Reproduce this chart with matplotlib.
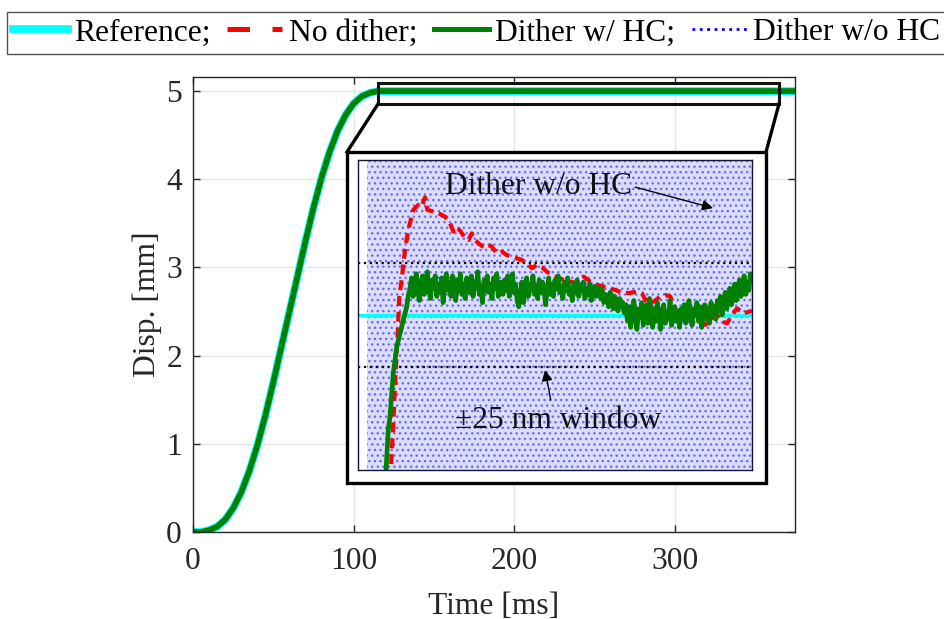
import numpy as np
import matplotlib
matplotlib.use('Agg')
import matplotlib.pyplot as plt
from matplotlib.patches import Rectangle
from matplotlib.lines import Line2D

plt.rcParams['font.family'] = ['Liberation Serif', 'DejaVu Serif']
plt.rcParams['font.size'] = 22.7
plt.rcParams['hatch.linewidth'] = 1.0

# main trajectory [ms], [mm]
t_main = [0, 5, 10, 15, 20, 25, 30, 35, 40, 45, 50, 55, 60, 65, 70, 75, 80,
          85, 90, 95, 100, 105, 110, 115, 375]
y_main = [0.0, 0.0, 0.02, 0.06, 0.14, 0.27, 0.45, 0.69, 0.98, 1.32, 1.70,
          2.10, 2.50, 2.90, 3.30, 3.68, 4.02, 4.31, 4.55, 4.73, 4.86, 4.94,
          4.98, 5.0, 5.0]

# zoomed view: error around 5 mm target [nm]
ref_t = [115, 365]
ref_nm = [0, 0]
win_nm = 25

# dither w/o HC swings over the whole zoom window
nohc_t = [120.5, 365]
nohc_lo = [-75, -75]
nohc_hi = [75, 75]

nodither_t = [135.5, 137.4, 138.5, 140.0, 141.2, 142.7, 144.8, 146.9, 150.1,
              153.3, 155.4, 157.5, 159.0, 162.8, 167.1, 170.2, 173.4, 175.5,
              177.7, 180.2, 183.0, 185.1, 187.2, 189.3, 191.4, 193.6, 195.7,
              197.8, 199.9, 203.1, 206.3, 209.5, 212.6, 215.8, 219.0, 222.1,
              225.3, 228.5, 231.7, 234.8, 238.0, 241.2, 245.4, 249.7, 253.9,
              258.1, 262.4, 266.6, 270.8, 275.1, 279.3, 283.5, 287.8, 292.0,
              295.2, 298.4, 302.6, 306.8, 310.0, 313.2, 316.4, 319.5, 323.8,
              328.0, 332.2, 335.4, 338.6, 342.8, 346.0, 349.2, 352.4, 355.5,
              359.8, 365.0]
nodither_nm = [-80, -52.6, -33.2, -12.1, 8.9, 17.0, 31.6, 41.3, 51.0,
               53.4, 52.6, 57.1, 51.0, 50.2, 49.0, 47.7, 44.5, 40.5,
               42.6, 40.5, 37.2, 36.4, 39.6, 36.4, 34.8, 33.5, 32.9,
               34.0, 33.2, 29.9, 30.7, 29.1, 28.3, 27.5, 26.7, 25.1,
               22.7, 24.3, 23.2, 21.0, 19.4, 18.3, 17.0, 16.2, 15.4,
               18.6, 16.2, 14.6, 13.8, 13.0, 11.8, 10.5, 10.8, 11.3,
               10.5, 5.7, 6.5, 8.9, 9.7, 8.9, 1.6, 0.0, -1.6,
               -2.4, -3.2, -4.8, -2.4, 0.0, -3.2, -4.0, 0.0, 3.2,
               0.8, 2.1]

hc_rise_t = [132.5, 134.2, 135.3, 137.4, 139.6, 142.7, 145.9, 147.0]
hc_rise_nm = [-80, -55.8, -49.4, -28.3, -15.4, -5.7, 4.0, 9.7]
# sampled every 1 ms from 148 ms
hc_nm = [
    13, 18, 9, 15, 20, 11, 7, 16, 19, 10, 14, 21, 12, 8, 17, 13, 19, 9, 15, 11,
    18, 6, 14, 20, 12, 16, 9, 19, 13, 7, 17, 12, 20, 10, 15, 8, 18, 14, 11, 19,
    9, 16, 13, 21, 10, 14, 6, 17, 12, 19, 11, 15, 8, 18, 13, 20, 9, 14, 16, 10,
    17, 12, 19, 9, 14, 20, 11, 15, 7, 4, 10, 16, 6, 13, 18, 9, 15, 12, 19, 10,
    14, 8, 17, 11, 16, 13, 5, 12, 18, 10, 15, 9, 17, 13, 19, 11, 14, 8, 16, 12,
    18, 10, 13, 7, 15, 11, 17, 9, 14, 12, 16, 8, 13, 10, 15, 7, 12, 14, 9, 11,
    13, 8, 12, 6, 10, 9, 4, 11, 7, 3, 9, 5, 2, 8, 4, 6, 1, 5,
    -3, 4, -6, 2, 7, -2, -7, 3, -1, 6, -5, 1, 5, -4, 8, 0, -6, 3, -3, 6,
    -1, -7, 2, 5, -4, 1, -2, 7, -5, 0, 4, -3, 2, -6, 3,
    -2, 5, -4, 2, 7, -1, -5, 3, 0, 6, -3, 4, -6, 1, 5, -2, 3, -4, 6, 0,
    4, -2, 7, 2, 9, 0, 6, 11, 3, 8, 13, 5, 10, 15, 7, 12, 17, 9, 14, 19,
    10, 16, 12, 20, 18]
hc_t = np.concatenate([hc_rise_t, 148 + np.arange(len(hc_nm))])
hc_all = np.concatenate([hc_rise_nm, hc_nm])

W, H = 945, 619
fig = plt.figure(figsize=(W / 100, H / 100), dpi=100)


def fx(px):
    return px / W


def fy(py):
    return 1 - py / H


ax = fig.add_axes([fx(193), fy(532), fx(795) - fx(193), fy(77) - fy(532)])
dark = '#262626'
ax.plot(t_main, y_main, ':', color='#0000ff', lw=2)
ax.plot(t_main, y_main, '-', color='#00ffff', lw=5.6)
ax.plot(t_main, y_main, color='#ff0000', lw=3, dashes=(2.4, 1.4))
ax.plot(t_main, y_main, '-', color='#008000', lw=4.2)
ax.set_xlim(0, 374.6)
ax.set_ylim(0, 5.16)
ax.set_xticks([0, 100, 200, 300])
ax.set_yticks([0, 1, 2, 3, 4, 5])
ax.grid(True, color='#e4e4e4', lw=1)
ax.set_axisbelow(True)
ax.tick_params(direction='in', top=True, right=True, length=4.8, width=1,
               colors=dark)
ax.tick_params(axis='x', pad=11)
ax.tick_params(axis='y', pad=8)
for s in ax.spines.values():
    s.set_color(dark)
    s.set_linewidth(1)
ax.set_xlabel('Time [ms]', color=dark, labelpad=11)
ax.set_ylabel('Disp. [mm]', color=dark, labelpad=3)

# zoom marker and frame
ax.add_patch(Rectangle((fx(347), fy(483)), fx(766) - fx(347), fy(152) - fy(483),
                       transform=fig.transFigure, facecolor='white',
                       edgecolor='black', lw=2.4, zorder=5, clip_on=False))
ax.add_patch(Rectangle((fx(378), fy(104)), fx(779) - fx(378), fy(83) - fy(104),
                       transform=fig.transFigure, facecolor='none',
                       edgecolor='#111111', lw=2.2, zorder=6, clip_on=False))
for (x0, y0, x1, y1) in [(378, 104, 347, 152), (779, 104, 766, 152)]:
    ax.add_line(Line2D([fx(x0), fx(x1)], [fy(y0), fy(y1)],
                       transform=fig.transFigure, color='black', lw=2.4,
                       zorder=6, clip_on=False))

axi = fig.add_axes([fx(358), fy(470), fx(752) - fx(358), fy(160) - fy(470)])
axi.fill_between(nohc_t, nohc_lo, nohc_hi, facecolor='#dcdcfb',
                 edgecolor='#6a6aff', hatch='...', linewidth=0)
axi.axhline(win_nm, color='black', ls=':', lw=1.6)
axi.axhline(-win_nm, color='black', ls=':', lw=1.6)
axi.plot(ref_t, ref_nm, color='#00ffff', lw=2.4)
axi.plot(nodither_t, nodither_nm, color='#ff0000', lw=3, dashes=(2.4, 1.4))
axi.plot(hc_t, hc_all, color='#008000', lw=3.4)
axi.set_xlim(115, 365)
axi.set_ylim(-75.2, 75.2)
axi.set_xticks([])
axi.set_yticks([])
for s in axi.spines.values():
    s.set_color('#14143c')
    s.set_linewidth(1)

axi.annotate('Dither w/o HC', xy=(340.3, 51.9), xytext=(229.8, 62.4),
             ha='center', va='center', color='#111111',
             arrowprops=dict(arrowstyle='-|>', color='black', lw=1,
                             relpos=(1, 0.5), shrinkA=0, shrinkB=0,
                             mutation_scale=16))
axi.annotate('\u00b125 nm window', xy=(233.7, -26.7), xytext=(241.9, -51),
             ha='center', va='center', color='#111111',
             arrowprops=dict(arrowstyle='-|>', color='black', lw=1,
                             relpos=(0.47, 1), shrinkA=2, shrinkB=0,
                             mutation_scale=16))

handles = [Line2D([], [], color='#00ffff', lw=5.6),
           Line2D([], [], color='#ff0000', lw=3.6, dashes=(4.5, 4.5)),
           Line2D([], [], color='#008000', lw=3.6),
           Line2D([], [], color='#0000ff', lw=2, ls=':')]
labels = ['Reference;', 'No dither;', 'Dither w/ HC;', 'Dither w/o HC']
leg = fig.legend(handles, labels, loc='upper center', ncol=4,
                 bbox_to_anchor=(fx(476.5), fy(12)), frameon=True,
                 fancybox=False, edgecolor=dark, handlelength=1.75,
                 handletextpad=0.2, columnspacing=0.52, borderpad=0.2,
                 borderaxespad=0)
leg.get_frame().set_linewidth(1)

fig.savefig('out.png', dpi=100)
